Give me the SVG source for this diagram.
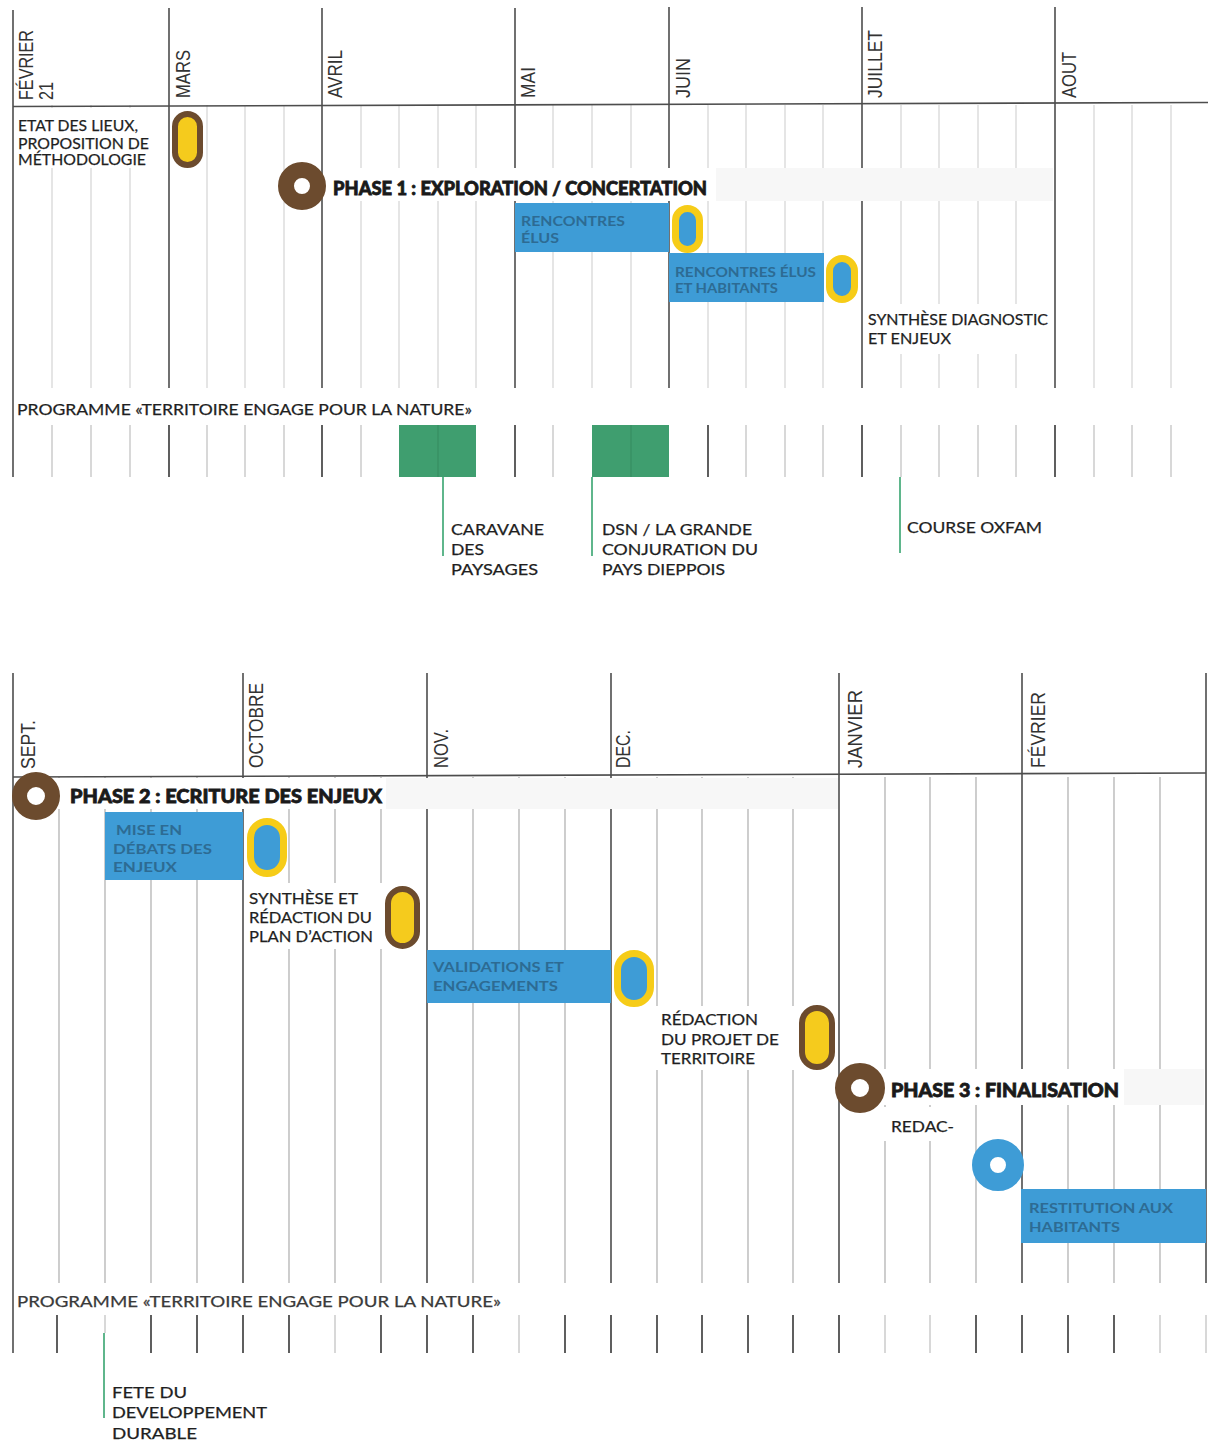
<svg xmlns="http://www.w3.org/2000/svg" width="1208" height="1444" viewBox="0 0 1208 1444">
<style>
.m{stroke:#4d4d4d;stroke-width:1.6;fill:none}
.w{stroke:#d4d4d4;stroke-width:1.2}
.wb{stroke:#b3b3b3;stroke-width:1.3}
.tk{stroke:#c8c8c8;stroke-width:1.4}
.tkd{stroke:#4d4d4d;stroke-width:1.8}
.band{fill:#f7f7f7}
.wh{fill:#ffffff}
.blue{fill:#3e9cd6}
.green{fill:#3f9e6f}
.gin{stroke:#378e62;stroke-width:1.2}
.lead{stroke:#5fb68c;stroke-width:2}
.pb{fill:#f5cb1d;stroke:#6c4b2e;stroke-width:6}
.py{fill:#3e9cd6;stroke:#f6cc18;stroke-width:7}
.ring{fill:none;stroke:#6c4b2e}
.ringb{fill:none;stroke:#3e9cd6}
.mo{font-family:"Liberation Sans",Arial,sans-serif;font-size:21px;fill:#333333}
.t{font-family:Lato,"Liberation Sans",sans-serif;font-size:15.5px;fill:#1f1f1f;stroke:#1f1f1f;stroke-width:0.25}
.ph{font-family:Lato,"Liberation Sans",sans-serif;font-size:18.5px;font-weight:900;fill:#1a1a1a;stroke:#1a1a1a;stroke-width:0.8}
.bt{font-family:Lato,"Liberation Sans",sans-serif;font-size:14px;font-weight:700;fill:#2d6b93}
</style>
<rect x="0" y="0" width="1208" height="1444" fill="#ffffff"/>

<!-- ============ TOP TIMELINE ============ -->
<g id="top-grid">
  <g class="w">
    <line x1="52" y1="105" x2="52" y2="388"/><line x1="91" y1="105" x2="91" y2="388"/><line x1="130" y1="105" x2="130" y2="388"/>
    <line x1="207" y1="105" x2="207" y2="388"/><line x1="245" y1="105" x2="245" y2="388"/><line x1="284" y1="105" x2="284" y2="388"/>
    <line x1="361" y1="105" x2="361" y2="388"/><line x1="399" y1="105" x2="399" y2="388"/><line x1="438" y1="105" x2="438" y2="388"/><line x1="476" y1="105" x2="476" y2="388"/>
    <line x1="553" y1="105" x2="553" y2="388"/><line x1="592" y1="105" x2="592" y2="388"/><line x1="631" y1="105" x2="631" y2="388"/>
    <line x1="708" y1="105" x2="708" y2="388"/><line x1="746" y1="105" x2="746" y2="388"/><line x1="785" y1="105" x2="785" y2="388"/><line x1="823" y1="105" x2="823" y2="388"/>
    <line x1="901" y1="105" x2="901" y2="388"/><line x1="939" y1="105" x2="939" y2="388"/><line x1="978" y1="105" x2="978" y2="388"/><line x1="1016" y1="105" x2="1016" y2="388"/>
    <line x1="1094" y1="105" x2="1094" y2="388"/><line x1="1132" y1="105" x2="1132" y2="388"/><line x1="1171" y1="105" x2="1171" y2="388"/>
  </g>
  <g class="m">
    <line x1="13" y1="10" x2="13" y2="477"/>
    <line x1="169" y1="8" x2="169" y2="388"/>
    <line x1="322" y1="8" x2="322" y2="388"/>
    <line x1="515" y1="8" x2="515" y2="388"/>
    <line x1="669" y1="7" x2="669" y2="388"/>
    <line x1="862" y1="7" x2="862" y2="388"/>
    <line x1="1055" y1="7" x2="1055" y2="388"/>
    <path d="M13 106.5 L1208 102.5"/>
  </g>
  <rect class="wh" x="15" y="108" width="152" height="60"/>
  <rect class="wh" x="326" y="168" width="390" height="33"/>
  <rect class="band" x="716" y="168" width="337" height="33"/>
  <rect class="wh" x="864" y="304" width="188" height="50"/>
</g>

<g id="top-months">
  <text class="mo" transform="translate(33,100) rotate(-90)" textLength="70" lengthAdjust="spacingAndGlyphs">FÉVRIER</text>
  <text class="mo" transform="translate(53,100) rotate(-90)" textLength="18" lengthAdjust="spacingAndGlyphs">21</text>
  <text class="mo" transform="translate(190,98) rotate(-90)" textLength="48" lengthAdjust="spacingAndGlyphs">MARS</text>
  <text class="mo" transform="translate(342,98) rotate(-90)" textLength="48" lengthAdjust="spacingAndGlyphs">AVRIL</text>
  <text class="mo" transform="translate(535,98) rotate(-90)" textLength="31" lengthAdjust="spacingAndGlyphs">MAI</text>
  <text class="mo" transform="translate(690,98) rotate(-90)" textLength="40" lengthAdjust="spacingAndGlyphs">JUIN</text>
  <text class="mo" transform="translate(882,98) rotate(-90)" textLength="68" lengthAdjust="spacingAndGlyphs">JUILLET</text>
  <text class="mo" transform="translate(1076,98) rotate(-90)" textLength="46" lengthAdjust="spacingAndGlyphs">AOUT</text>
</g>

<g id="etat-des-lieux">
  <text class="t" x="18" y="131" textLength="120" lengthAdjust="spacingAndGlyphs">ETAT DES LIEUX,</text>
  <text class="t" x="18" y="149" textLength="131" lengthAdjust="spacingAndGlyphs">PROPOSITION DE</text>
  <text class="t" x="18" y="165" textLength="128" lengthAdjust="spacingAndGlyphs">MÉTHODOLOGIE</text>
</g>
<g id="jalon-mars"><rect class="pb" x="175" y="114" width="25" height="51" rx="12.5"/></g>

<g id="phase1">
  <circle class="ring" cx="302" cy="186" r="16" stroke-width="16"/>
  <text class="ph" x="333" y="195" textLength="374" lengthAdjust="spacingAndGlyphs">PHASE 1 : EXPLORATION / CONCERTATION</text>
</g>

<g id="rencontres-elus">
  <rect class="blue" x="515" y="203" width="154" height="49"/>
  <text class="bt" x="521" y="226" textLength="104" lengthAdjust="spacingAndGlyphs">RENCONTRES</text>
  <text class="bt" x="521" y="243" textLength="38" lengthAdjust="spacingAndGlyphs">ÉLUS</text>
</g>
<g id="jalon-juin"><rect class="py" x="675.5" y="208.5" width="24" height="41" rx="12"/></g>

<g id="rencontres-habitants">
  <rect class="blue" x="669" y="253" width="155" height="49"/>
  <text class="bt" x="675" y="277" textLength="141" lengthAdjust="spacingAndGlyphs">RENCONTRES ÉLUS</text>
  <text class="bt" x="675" y="293" textLength="103" lengthAdjust="spacingAndGlyphs">ET HABITANTS</text>
</g>
<g id="jalon-juin2"><rect class="py" x="829.5" y="258.5" width="25" height="41" rx="12.5"/></g>

<g id="synthese-diagnostic">
  <text class="t" x="868" y="325" textLength="180" lengthAdjust="spacingAndGlyphs">SYNTHÈSE DIAGNOSTIC</text>
  <text class="t" x="868" y="344" textLength="83" lengthAdjust="spacingAndGlyphs">ET ENJEUX</text>
</g>

<g id="programme-1">
  <text class="t" x="17" y="415" textLength="455" lengthAdjust="spacingAndGlyphs">PROGRAMME «TERRITOIRE ENGAGE POUR LA NATURE»</text>
  <g class="tk">
    <line x1="52" y1="425" x2="52" y2="477"/><line x1="91" y1="425" x2="91" y2="477"/><line x1="130" y1="425" x2="130" y2="477"/>
    <line x1="207" y1="425" x2="207" y2="477"/><line x1="245" y1="425" x2="245" y2="477"/><line x1="284" y1="425" x2="284" y2="477"/>
    <line x1="361" y1="425" x2="361" y2="477"/><line x1="553" y1="425" x2="553" y2="477"/>
    <line x1="746" y1="425" x2="746" y2="477"/><line x1="785" y1="425" x2="785" y2="477"/><line x1="823" y1="425" x2="823" y2="477"/>
    <line x1="901" y1="425" x2="901" y2="477"/><line x1="939" y1="425" x2="939" y2="477"/><line x1="978" y1="425" x2="978" y2="477"/><line x1="1016" y1="425" x2="1016" y2="477"/>
    <line x1="1094" y1="425" x2="1094" y2="477"/><line x1="1132" y1="425" x2="1132" y2="477"/><line x1="1171" y1="425" x2="1171" y2="477"/>
  </g>
  <g class="tkd">
    <line x1="169" y1="425" x2="169" y2="477"/><line x1="322" y1="425" x2="322" y2="477"/><line x1="515" y1="425" x2="515" y2="477"/>
    <line x1="708" y1="425" x2="708" y2="477"/><line x1="862" y1="425" x2="862" y2="477"/><line x1="1055" y1="425" x2="1055" y2="477"/>
  </g>
</g>

<g id="caravane">
  <rect class="green" x="399" y="425" width="77" height="52"/>
  <line class="gin" x1="438" y1="425" x2="438" y2="477"/>
  <text class="t" x="451" y="535" textLength="93" lengthAdjust="spacingAndGlyphs">CARAVANE</text>
  <text class="t" x="451" y="555" textLength="33" lengthAdjust="spacingAndGlyphs">DES</text>
  <text class="t" x="451" y="575" textLength="87" lengthAdjust="spacingAndGlyphs">PAYSAGES</text>
</g>
<g id="dsn">
  <rect class="green" x="592" y="425" width="77" height="52"/>
  <line class="gin" x1="631" y1="425" x2="631" y2="477"/>
  <text class="t" x="602" y="535" textLength="150" lengthAdjust="spacingAndGlyphs">DSN / LA GRANDE</text>
  <text class="t" x="602" y="555" textLength="156" lengthAdjust="spacingAndGlyphs">CONJURATION DU</text>
  <text class="t" x="602" y="575" textLength="123" lengthAdjust="spacingAndGlyphs">PAYS DIEPPOIS</text>
</g>
<g id="oxfam">
  <text class="t" x="907" y="533" textLength="135" lengthAdjust="spacingAndGlyphs">COURSE OXFAM</text>
</g>

<!-- ============ BOTTOM TIMELINE ============ -->
<g id="bottom-grid">
  <g class="wb">
    <line x1="59" y1="777" x2="59" y2="1283"/><line x1="105" y1="777" x2="105" y2="1283"/><line x1="151" y1="777" x2="151" y2="1283"/><line x1="197" y1="777" x2="197" y2="1283"/>
    <line x1="289" y1="777" x2="289" y2="1283"/><line x1="335" y1="777" x2="335" y2="1283"/><line x1="381" y1="777" x2="381" y2="1283"/>
    <line x1="473" y1="777" x2="473" y2="1283"/><line x1="519" y1="777" x2="519" y2="1283"/><line x1="565" y1="777" x2="565" y2="1283"/>
    <line x1="657" y1="777" x2="657" y2="1283"/><line x1="702" y1="777" x2="702" y2="1283"/><line x1="748" y1="777" x2="748" y2="1283"/><line x1="793" y1="777" x2="793" y2="1283"/>
    <line x1="885" y1="777" x2="885" y2="1283"/><line x1="930" y1="777" x2="930" y2="1283"/><line x1="976" y1="777" x2="976" y2="1283"/>
    <line x1="1068" y1="777" x2="1068" y2="1283"/><line x1="1114" y1="777" x2="1114" y2="1283"/><line x1="1160" y1="777" x2="1160" y2="1283"/>
  </g>
  <g class="m">
    <line x1="13" y1="673" x2="13" y2="1353"/>
    <line x1="243" y1="673" x2="243" y2="1283"/>
    <line x1="427" y1="673" x2="427" y2="1283"/>
    <line x1="611" y1="673" x2="611" y2="1283"/>
    <line x1="839" y1="673" x2="839" y2="1283"/>
    <line x1="1022" y1="673" x2="1022" y2="1283"/>
    <line x1="1206" y1="673" x2="1206" y2="1283"/>
    <path d="M13 777 L1206 773"/>
  </g>
  <rect class="wh" x="14" y="778" width="372" height="31"/>
  <rect class="band" x="386" y="778" width="452" height="31"/>
  <rect class="wh" x="245" y="883" width="138" height="66"/>
  <rect class="wh" x="655" y="1006" width="142" height="64"/>
  <rect class="wh" x="884" y="1069" width="240" height="36"/>
  <rect class="band" x="1124" y="1069" width="80" height="36"/>
  <rect class="wh" x="884" y="1107" width="80" height="34"/>
</g>

<g id="bottom-months">
  <text class="mo" transform="translate(35,769) rotate(-90)" textLength="49" lengthAdjust="spacingAndGlyphs">SEPT.</text>
  <text class="mo" transform="translate(263,768) rotate(-90)" textLength="85" lengthAdjust="spacingAndGlyphs">OCTOBRE</text>
  <text class="mo" transform="translate(448,768) rotate(-90)" textLength="39" lengthAdjust="spacingAndGlyphs">NOV.</text>
  <text class="mo" transform="translate(630,768) rotate(-90)" textLength="38" lengthAdjust="spacingAndGlyphs">DEC.</text>
  <text class="mo" transform="translate(862,768) rotate(-90)" textLength="78" lengthAdjust="spacingAndGlyphs">JANVIER</text>
  <text class="mo" transform="translate(1045,768) rotate(-90)" textLength="76" lengthAdjust="spacingAndGlyphs">FÉVRIER</text>
</g>

<g id="phase2">
  <circle class="ring" cx="36" cy="796" r="16.5" stroke-width="15"/>
  <text class="ph" x="70" y="803" textLength="312" lengthAdjust="spacingAndGlyphs">PHASE 2 : ECRITURE DES ENJEUX</text>
</g>

<g id="mise-en-debats">
  <rect class="blue" x="105" y="812" width="138" height="68"/>
  <text class="bt" x="116" y="835" textLength="66" lengthAdjust="spacingAndGlyphs">MISE EN</text>
  <text class="bt" x="113" y="854" textLength="99" lengthAdjust="spacingAndGlyphs">DÉBATS DES</text>
  <text class="bt" x="113" y="872" textLength="64" lengthAdjust="spacingAndGlyphs">ENJEUX</text>
</g>
<g id="jalon-oct"><rect class="py" x="250.5" y="821.5" width="33" height="52" rx="16.5"/></g>

<g id="synthese-redaction">
  <text class="t" x="249" y="904" textLength="109" lengthAdjust="spacingAndGlyphs">SYNTHÈSE ET</text>
  <text class="t" x="249" y="923" textLength="123" lengthAdjust="spacingAndGlyphs">RÉDACTION DU</text>
  <text class="t" x="249" y="942" textLength="124" lengthAdjust="spacingAndGlyphs">PLAN D’ACTION</text>
</g>
<g id="jalon-nov"><rect class="pb" x="388" y="889" width="29" height="57" rx="14.5"/></g>

<g id="validations">
  <rect class="blue" x="427" y="950" width="184" height="53"/>
  <text class="bt" x="433" y="972" textLength="131" lengthAdjust="spacingAndGlyphs">VALIDATIONS ET</text>
  <text class="bt" x="433" y="991" textLength="125" lengthAdjust="spacingAndGlyphs">ENGAGEMENTS</text>
</g>
<g id="jalon-dec"><rect class="py" x="617.5" y="953.5" width="33" height="50" rx="16.5"/></g>

<g id="redaction-projet">
  <text class="t" x="661" y="1025" textLength="97" lengthAdjust="spacingAndGlyphs">RÉDACTION</text>
  <text class="t" x="661" y="1045" textLength="118" lengthAdjust="spacingAndGlyphs">DU PROJET DE</text>
  <text class="t" x="661" y="1064" textLength="94" lengthAdjust="spacingAndGlyphs">TERRITOIRE</text>
</g>
<g id="jalon-dec2"><rect class="pb" x="802" y="1008" width="30" height="59" rx="15"/></g>

<g id="phase3">
  <circle class="ring" cx="860" cy="1088" r="17" stroke-width="16"/>
  <text class="ph" x="891" y="1097" textLength="228" lengthAdjust="spacingAndGlyphs">PHASE 3 : FINALISATION</text>
  <text class="t" x="891" y="1132" textLength="63" lengthAdjust="spacingAndGlyphs">REDAC-</text>
</g>
<g id="jalon-jan"><circle class="ringb" cx="998" cy="1165" r="17" stroke-width="18"/></g>

<g id="restitution">
  <rect class="blue" x="1021" y="1189" width="185" height="54"/>
  <text class="bt" x="1029" y="1213" textLength="144" lengthAdjust="spacingAndGlyphs">RESTITUTION AUX</text>
  <text class="bt" x="1029" y="1232" textLength="91" lengthAdjust="spacingAndGlyphs">HABITANTS</text>
</g>

<g id="programme-2">
  <text class="t" x="17" y="1307" textLength="484" lengthAdjust="spacingAndGlyphs" style="fill:#3a3a3a;stroke:#3a3a3a">PROGRAMME «TERRITOIRE ENGAGE POUR LA NATURE»</text>
  <g class="tk">
    <line x1="105" y1="1315" x2="105" y2="1333"/><line x1="335" y1="1315" x2="335" y2="1353"/><line x1="519" y1="1315" x2="519" y2="1353"/>
    <line x1="885" y1="1315" x2="885" y2="1353"/><line x1="930" y1="1315" x2="930" y2="1353"/><line x1="1160" y1="1315" x2="1160" y2="1353"/><line x1="1206" y1="1315" x2="1206" y2="1353"/>
  </g>
  <g class="tkd">
    <line x1="57" y1="1315" x2="57" y2="1353"/><line x1="151" y1="1315" x2="151" y2="1353"/><line x1="197" y1="1315" x2="197" y2="1353"/>
    <line x1="243" y1="1315" x2="243" y2="1353"/><line x1="289" y1="1315" x2="289" y2="1353"/><line x1="381" y1="1315" x2="381" y2="1353"/>
    <line x1="427" y1="1315" x2="427" y2="1353"/><line x1="473" y1="1315" x2="473" y2="1353"/><line x1="565" y1="1315" x2="565" y2="1353"/>
    <line x1="611" y1="1315" x2="611" y2="1353"/><line x1="657" y1="1315" x2="657" y2="1353"/><line x1="702" y1="1315" x2="702" y2="1353"/>
    <line x1="748" y1="1315" x2="748" y2="1353"/><line x1="793" y1="1315" x2="793" y2="1353"/><line x1="839" y1="1315" x2="839" y2="1353"/>
    <line x1="976" y1="1315" x2="976" y2="1353"/><line x1="1022" y1="1315" x2="1022" y2="1353"/><line x1="1068" y1="1315" x2="1068" y2="1353"/>
    <line x1="1114" y1="1315" x2="1114" y2="1353"/>
  </g>
</g>
<g id="fete-dd">
  <text class="t" x="112" y="1398" textLength="75" lengthAdjust="spacingAndGlyphs">FETE DU</text>
  <text class="t" x="112" y="1418" textLength="155" lengthAdjust="spacingAndGlyphs">DEVELOPPEMENT</text>
  <text class="t" x="112" y="1439" textLength="85" lengthAdjust="spacingAndGlyphs">DURABLE</text>
</g>

<g id="connectors">
  <line class="lead" x1="443" y1="477" x2="443" y2="556"/>
  <line class="lead" x1="592" y1="477" x2="592" y2="556"/>
  <line class="lead" x1="900" y1="477" x2="900" y2="553"/>
  <line class="lead" x1="104" y1="1333" x2="104" y2="1418"/>
</g>
</svg>
